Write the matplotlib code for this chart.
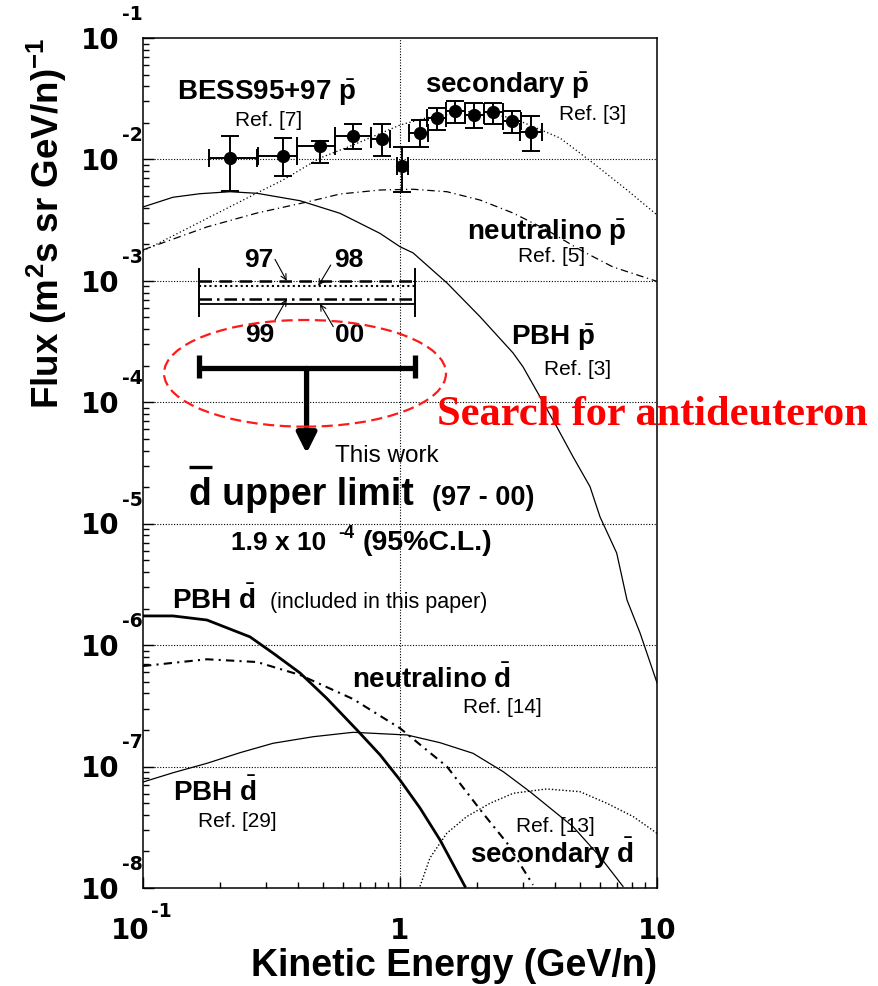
import numpy as np
import matplotlib
matplotlib.use('Agg')
import matplotlib.pyplot as plt
from matplotlib.patches import Ellipse
from matplotlib.ticker import LogLocator, NullFormatter

plt.rcParams['font.family'] = 'Liberation Sans'
plt.rcParams['mathtext.fontset'] = 'custom'
plt.rcParams['mathtext.rm'] = 'Liberation Sans'
plt.rcParams['mathtext.bf'] = 'Liberation Sans:bold'
plt.rcParams['mathtext.it'] = 'Liberation Sans:italic'

# BESS95+97 antiproton points (GeV/n, flux)
bess_x = [0.218, 0.350, 0.488, 0.658, 0.851, 1.015, 1.191, 1.389, 1.644, 1.949, 2.311, 2.720, 3.227]
bess_y = [1.02e-2, 1.07e-2, 1.29e-2, 1.56e-2, 1.47e-2, 8.9e-3, 1.66e-2, 2.18e-2, 2.50e-2, 2.32e-2, 2.47e-2, 2.07e-2, 1.67e-2]
bess_ylo = [5.5e-3, 7.3e-3, 9.4e-3, 1.23e-2, 1.07e-2, 5.4e-3, 1.27e-2, 1.75e-2, 1.98e-2, 1.81e-2, 1.95e-2, 1.64e-2, 1.18e-2]
bess_yhi = [1.56e-2, 1.51e-2, 1.42e-2, 1.95e-2, 1.95e-2, 1.26e-2, 2.11e-2, 2.64e-2, 3.05e-2, 2.90e-2, 2.93e-2, 2.51e-2, 2.28e-2]
bess_xlo = [0.180, 0.281, 0.397, 0.559, 0.771, 0.971, 1.084, 1.274, 1.510, 1.790, 2.122, 2.516, 2.931]
bess_xhi = [0.278, 0.396, 0.559, 0.771, 0.914, 1.077, 1.285, 1.510, 1.790, 2.122, 2.516, 2.957, 3.559]

# secondary pbar (dotted)
sec_p_x = [0.100, 0.1666, 0.2777, 0.3505, 0.4884, 0.6567, 1.000, 1.308, 1.923, 2.753, 4.195, 5.636, 7.645, 10.0]
sec_p_y = [1.76e-3, 3.05e-3, 5.29e-3, 6.77e-3, 1.027e-2, 1.315e-2, 1.92e-2, 2.24e-2, 2.50e-2, 2.19e-2, 1.50e-2, 9.35e-3, 5.60e-3, 3.49e-3]

# neutralino pbar (dash-dot)
neu_p_x = [0.100, 0.1774, 0.2777, 0.4346, 0.5841, 0.8361, 1.124, 1.524, 2.048, 2.753, 3.733, 5.016, 6.743, 10.0]
neu_p_y = [1.80e-3, 2.78e-3, 3.62e-3, 4.46e-3, 5.19e-3, 5.60e-3, 5.68e-3, 5.42e-3, 4.63e-3, 3.62e-3, 2.62e-3, 1.80e-3, 1.30e-3, 9.9e-4]

# PBH pbar (thin solid)
pbh_p_x = [0.100, 0.1308, 0.1666, 0.218, 0.2777, 0.4083, 0.5841, 0.8361, 1.000, 1.124, 1.524,
           2.048, 2.753, 3.010, 3.505, 4.071, 4.712, 5.487, 6.000, 6.968, 7.645, 8.590, 10.0]
pbh_p_y = [4.06e-3, 4.88e-3, 5.22e-3, 5.42e-3, 5.26e-3, 4.57e-3, 3.60e-3, 2.46e-3, 1.91e-3, 1.70e-3, 9.6e-4,
           5.07e-4, 2.55e-4, 1.96e-4, 1.11e-4, 6.3e-5, 3.56e-5, 2.02e-5, 1.14e-5, 5.74e-6, 2.35e-6, 1.26e-6, 4.9e-7]

# PBH dbar, this paper (thick solid)
pbh_d_x = [0.100, 0.1308, 0.1774, 0.2608, 0.3214, 0.4083, 0.5186, 0.6803, 0.8361, 1.000, 1.196, 1.431, 1.790]
pbh_d_y = [1.74e-6, 1.74e-6, 1.61e-6, 1.17e-6, 8.57e-7, 5.9e-7, 3.65e-7, 2.0e-7, 1.25e-7, 7.75e-8, 4.56e-8, 2.49e-8, 1.03e-8]

# neutralino dbar (dash-dot)
neu_d_x = [0.100, 0.1774, 0.2777, 0.4083, 0.6565, 1.000, 1.524, 2.104, 2.608, 3.292]
neu_d_y = [6.73e-7, 7.65e-7, 7.26e-7, 5.68e-7, 3.6e-7, 2.07e-7, 9.98e-8, 4.12e-8, 2.35e-8, 1.06e-8]

# PBH dbar, Ref. [29] (thin solid)
pbh29_d_x = [0.100, 0.1312, 0.1774, 0.2384, 0.3205, 0.4599, 0.6565, 1.065, 1.431, 1.923, 2.523, 3.204, 4.712, 6.000, 7.375]
pbh29_d_y = [7.46e-8, 8.91e-8, 1.064e-7, 1.301e-7, 1.555e-7, 1.762e-7, 1.915e-7, 1.82e-7, 1.573e-7, 1.286e-7,
             9.07e-8, 6.21e-8, 3.20e-8, 1.81e-8, 1.03e-8]

# secondary dbar (dotted)
sec_d_x = [1.196, 1.308, 1.520, 1.817, 2.239, 2.760, 3.720, 5.016, 6.390, 8.087, 10.0]
sec_d_y = [1.03e-8, 1.77e-8, 2.82e-8, 3.87e-8, 4.98e-8, 6.03e-8, 6.54e-8, 6.21e-8, 4.98e-8, 3.87e-8, 2.82e-8]

# yearly dbar limits and combined limit
lim_years = ['97', '98', '99', '00']
lim_flux = [1.0e-3, 9.1e-4, 7.05e-4, 6.45e-4]
lim_emin, lim_emax = 0.1656, 1.144
lim_combined = 1.9e-4
arrow_x, arrow_tip = 0.433, 3.8e-5

fig = plt.figure(figsize=(8.79, 9.86), dpi=100)
ax = fig.add_axes([143 / 879, 98 / 986, 514 / 879, 850 / 986])
ax.set_xscale('log')
ax.set_yscale('log')
ax.set_xlim(0.1, 10)
ax.set_ylim(1e-8, 1e-1)

# grid: dotted at decades, vertical at 1
for k in range(-7, -1):
    ax.axhline(10.0 ** k, color='k', lw=0.8, ls=(0, (1, 1.5)), zorder=1)
ax.axvline(1.0, color='k', lw=0.8, ls=(0, (1, 1.5)), zorder=1)

# curves
ax.plot(sec_p_x, sec_p_y, color='k', lw=0.9, ls=(0, (1, 2)))
ax.plot(neu_p_x, neu_p_y, color='k', lw=0.9, ls=(0, (6, 3, 1, 3)))
ax.plot(pbh_p_x, pbh_p_y, color='k', lw=0.9)
ax.plot(pbh_d_x, pbh_d_y, color='k', lw=2.0)
ax.plot(neu_d_x, neu_d_y, color='k', lw=1.5, ls=(0, (4, 2.5, 1, 2.5)))
ax.plot(pbh29_d_x, pbh29_d_y, color='k', lw=0.9)
ax.plot(sec_d_x, sec_d_y, color='k', lw=1.0, ls=(0, (1, 1.5)))

# BESS data
bx = np.array(bess_x)
by = np.array(bess_y)
ax.errorbar(bx, by,
            xerr=[bx - np.array(bess_xlo), np.array(bess_xhi) - bx],
            yerr=[by - np.array(bess_ylo), np.array(bess_yhi) - by],
            fmt='o', color='k', ms=8.5, lw=1.4, capsize=6.5, capthick=1.4, zorder=5)

# yearly limits
lim_styles = [(0, (5, 3)), (0, (1, 1.5)), (0, (5, 2, 1, 2)), '-']
lim_widths = [1.8, 1.5, 1.8, 1.3]
for f, ls, lw in zip(lim_flux, lim_styles, lim_widths):
    ax.plot([lim_emin, lim_emax], [f, f], color='k', lw=lw, ls=ls, zorder=4)
for e in (lim_emin, lim_emax):
    ax.plot([e, e], [1.245e-3, 5.14e-4], color='k', lw=1.4, zorder=4)

# combined limit with arrow
ax.plot([lim_emin, lim_emax], [lim_combined, lim_combined], color='k', lw=3.8, solid_capstyle='butt', zorder=4)
for e in (lim_emin, lim_emax):
    ax.plot([e, e], [2.45e-4, 1.576e-4], color='k', lw=3.8, solid_capstyle='butt', zorder=4)
ax.annotate('', xy=(arrow_x, arrow_tip), xytext=(arrow_x, lim_combined),
            arrowprops=dict(arrowstyle='-|>', lw=3.8, color='k', mutation_scale=30,
                            shrinkA=0, shrinkB=0), zorder=4)

ax.add_patch(Ellipse((0.3152, 0.6055), 0.5486, 0.1255, transform=ax.transAxes,
                     fill=False, ec='#ff1a1a', lw=1.6, ls=(0, (5, 2.5)), zorder=6))

# year labels with small arrows
year_txt = [(0.2261, 0.731), (0.4008, 0.731), (0.2276, 0.6427), (0.4027, 0.6427)]
year_tail = [(0.2568, 0.7396), (0.3652, 0.7329), (0.2568, 0.6682), (0.3702, 0.6604)]
year_tip_x = [0.3623, 0.481, 0.3623, 0.4884]
for yr, (tx, ty), tail, txp, f in zip(lim_years, year_txt, year_tail, year_tip_x, lim_flux):
    ax.text(tx, ty, yr, transform=ax.transAxes, ha='center', va='baseline',
            fontsize=19, fontweight='bold')
    ax.annotate('', xy=(txp, f), xycoords='data', xytext=tail, textcoords='axes fraction',
                arrowprops=dict(arrowstyle='->', lw=0.8, color='k', shrinkA=0, shrinkB=0,
                                mutation_scale=10))

def label(x, y, s, size, bold=True, **kw):
    ax.text(x, y, s, transform=ax.transAxes, ha=kw.pop('ha', 'center'), va='baseline',
            fontsize=size, fontweight='bold' if bold else 'normal', clip_on=False, **kw)

pbar = r'$\bar{\mathbf{p}}$'
dbar = r'$\bar{\mathbf{d}}$'
label(0.241, 0.927, 'BESS95+97 ' + pbar, 20)
label(0.245, 0.8965, 'Ref. [7]', 15, bold=False)
label(0.7076, 0.935, 'secondary ' + pbar, 20)
label(0.8745, 0.9035, 'Ref. [3]', 15, bold=False)
label(0.786, 0.7624, 'neutralino ' + pbar, 20)
label(0.795, 0.7365, 'Ref. [5]', 15, bold=False)
label(0.797, 0.6388, 'PBH ' + pbar, 20)
label(0.846, 0.6035, 'Ref. [3]', 15, bold=False)
label(0.475, 0.5015, 'This work', 17.5, bold=False)
label(0.3088, 0.4506, 'd upper limit', 27)
ax.plot([0.0895, 0.1342], [0.4953, 0.4953], transform=ax.transAxes, color='k', lw=2.4,
        solid_capstyle='butt', clip_on=False)
label(0.662, 0.4506, '(97 - 00)', 19.5)
label(0.3572, 0.3976, '1.9 x 10', 19, ha='right')
label(0.3953, 0.4117, '-4', 13)
label(0.4265, 0.3976, '(95%C.L.)', 20.5, ha='left')
label(0.1368, 0.328, 'PBH ' + dbar, 20)
label(0.4578, 0.329, '(included in this paper)', 15.5, bold=False)
label(0.5617, 0.2349, 'neutralino ' + dbar, 20)
label(0.6984, 0.2053, 'Ref. [14]', 15, bold=False)
label(0.1395, 0.1024, 'PBH ' + dbar, 20)
label(0.1838, 0.0721, 'Ref. [29]', 15, bold=False)
label(0.8032, 0.0660, 'Ref. [13]', 15, bold=False)
label(0.7961, 0.0291, 'secondary ' + dbar, 20)

ax.text(0.5714, 0.5447, 'Search for antideuteron', transform=ax.transAxes, ha='left',
        va='baseline', fontsize=30.5, fontweight='bold', color='#ff0000',
        family='Liberation Serif', clip_on=False)

# axes styling (ROOT-like)
for s in ax.spines.values():
    s.set_linewidth(1.1)
ax.xaxis.set_major_locator(LogLocator(base=10, numticks=10))
ax.yaxis.set_major_locator(LogLocator(base=10, numticks=12))
ax.xaxis.set_minor_locator(LogLocator(base=10, subs=np.arange(2, 10), numticks=20))
ax.yaxis.set_minor_locator(LogLocator(base=10, subs=np.arange(2, 10), numticks=20))
ax.xaxis.set_minor_formatter(NullFormatter())
ax.yaxis.set_minor_formatter(NullFormatter())
ax.tick_params(which='both', direction='in', top=False, right=False,
               labelbottom=False, labelleft=False, width=1.0)
ax.tick_params(which='major', length=8)
ax.tick_params(which='minor', length=4.5)

# tick labels "10" with raised exponents
tick_font = dict(family='DejaVu Sans', fontweight='bold')
for k in range(-8, 0):
    ax.annotate('10', xy=(0, 10.0 ** k), xycoords=('axes fraction', 'data'),
                xytext=(-17, -2), textcoords='offset points', ha='right', va='center',
                fontsize=20, **tick_font)
    ax.annotate('%d' % k, xy=(0, 10.0 ** k), xycoords=('axes fraction', 'data'),
                xytext=(-15, 17), textcoords='offset points', ha='left', va='center',
                fontsize=13.5, **tick_font)
for xv, s in [(0.1, '10'), (1.0, '1'), (10.0, '10')]:
    ax.annotate(s, xy=(xv, 0), xycoords=('data', 'axes fraction'),
                xytext=(-9 if xv == 0.1 else 0, -31), textcoords='offset points',
                ha='center', va='center', fontsize=20, **tick_font)
ax.annotate('-1', xy=(0.1, 0), xycoords=('data', 'axes fraction'),
            xytext=(6, -17), textcoords='offset points', ha='left', va='center',
            fontsize=13.5, **tick_font)

ax.text(1.0, -0.1035, 'Kinetic Energy (GeV/n)', transform=ax.transAxes, ha='right',
        va='baseline', fontsize=27, fontweight='bold')
ax.text(-0.187, 1.0, r'Flux (m$^{\mathbf{2}}$s sr GeV/n)$^{\mathbf{-1}}$', transform=ax.transAxes,
        ha='right', va='center', rotation=90, fontsize=26.5, fontweight='bold',
        rotation_mode='anchor')

fig.savefig('out.png', dpi=100)
